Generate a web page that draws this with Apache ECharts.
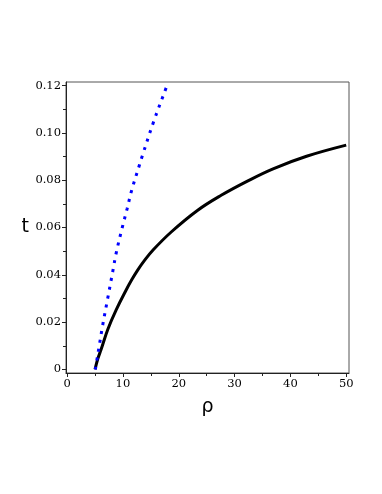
<!DOCTYPE html>
<html>
<head>
<meta charset="utf-8">
<script src="https://cdn.jsdelivr.net/npm/echarts@6/dist/echarts.min.js"></script>
<style>
html, body { margin: 0; padding: 0; background: #fff; }
#main { width: 382px; height: 494px; }
</style>
</head>
<body>
<div id="main"></div>
<script>
// curve data: [rho, t]
var solidCurve = [
    [5.0, 0], [5.5, 0.0045], [6.1, 0.0085], [7.3, 0.0170], [8.79, 0.0252],
    [10.6, 0.0337], [11.6, 0.0380], [12.67, 0.0421], [13.87, 0.0461],
    [15.36, 0.0504], [18.65, 0.0581], [23.4, 0.0673], [27.6, 0.0736],
    [32.3, 0.0796], [36.9, 0.0848], [42.9, 0.0901], [50, 0.0948]
];
var dottedCurve = [
    [5.05, 0], [5.4, 0.005], [5.86, 0.0115], [6.4, 0.0191], [7.3, 0.0304],
    [8.2, 0.0417], [8.8, 0.0493], [9.92, 0.0604], [10.76, 0.068],
    [11.54, 0.0755], [12.97, 0.0865], [13.45, 0.0901], [15.48, 0.1046],
    [17.75, 0.1191], [17.9, 0.12]
];

var xMajor = [0, 10, 20, 30, 40, 50];
var xMinor = [5, 15, 25, 35, 45];
var xLabels = ['0', '10', '20', '30', '40', '50'];
var yMajor = [0, 0.02, 0.04, 0.06, 0.08, 0.10, 0.12];
var yMinor = [0.01, 0.03, 0.05, 0.07, 0.09, 0.11];
var yLabels = ['0', '0.02', '0.04', '0.06', '0.08', '0.10', '0.12'];

var tickFont = { color: '#000', fontFamily: 'DejaVu Serif', fontSize: 11.5 };
var axisCol = '#222';

function pick(vals, labels) {
    return function (v) {
        for (var i = 0; i < vals.length; i++) {
            if (Math.abs(vals[i] - v) < 1e-9) return labels[i];
        }
        return '';
    };
}

var option = {
    animation: false,
    backgroundColor: '#fff',
    grid: {
        left: 66, right: 33, top: 82, bottom: 121,
        show: true, borderColor: '#555', borderWidth: 1
    },
    xAxis: [
        {
            type: 'value', min: -0.2, max: 50.5, position: 'bottom',
            name: 'ρ', nameLocation: 'middle', nameGap: 25,
            nameTextStyle: { fontFamily: 'DejaVu Sans', fontSize: 19, color: '#000' },
            axisLine: { onZero: false, lineStyle: { color: axisCol, width: 1 } },
            axisTick: { customValues: xMajor, length: 4, lineStyle: { color: axisCol } },
            axisLabel: Object.assign({ customValues: xMajor, margin: 5, formatter: pick(xMajor, xLabels) }, tickFont),
            splitLine: { show: false }
        },
        {
            type: 'value', min: -0.2, max: 50.5, position: 'bottom',
            axisLine: { show: false, onZero: false },
            axisTick: { customValues: xMinor, length: 3, lineStyle: { color: axisCol } },
            axisLabel: { show: false },
            splitLine: { show: false }
        }
    ],
    yAxis: [
        {
            type: 'value', min: -0.0015, max: 0.1215, position: 'left',
            name: 't', nameLocation: 'middle', nameGap: 37, nameRotate: 0,
            nameTextStyle: { fontFamily: 'DejaVu Sans', fontSize: 19, color: '#000' },
            axisLine: { show: true, onZero: false, lineStyle: { color: axisCol, width: 1 } },
            axisTick: { show: true, customValues: yMajor, length: 4, lineStyle: { color: axisCol } },
            axisLabel: Object.assign({ customValues: yMajor, margin: 5, formatter: pick(yMajor, yLabels) }, tickFont),
            splitLine: { show: false }
        },
        {
            type: 'value', min: -0.0015, max: 0.1215, position: 'left',
            axisLine: { show: false, onZero: false },
            axisTick: { show: true, customValues: yMinor, length: 3, lineStyle: { color: axisCol } },
            axisLabel: { show: false },
            splitLine: { show: false }
        }
    ],
    series: [
        {
            type: 'line', data: solidCurve, smooth: 0.4, showSymbol: false,
            xAxisIndex: 0, yAxisIndex: 0,
            lineStyle: { color: '#000', width: 3 }
        },
        {
            type: 'line', data: dottedCurve, smooth: 0.4, showSymbol: false,
            xAxisIndex: 0, yAxisIndex: 0,
            lineStyle: { color: '#0000ff', width: 3, type: [3, 6] }
        }
    ]
};

echarts.init(document.getElementById('main')).setOption(option);
</script>
</body>
</html>
